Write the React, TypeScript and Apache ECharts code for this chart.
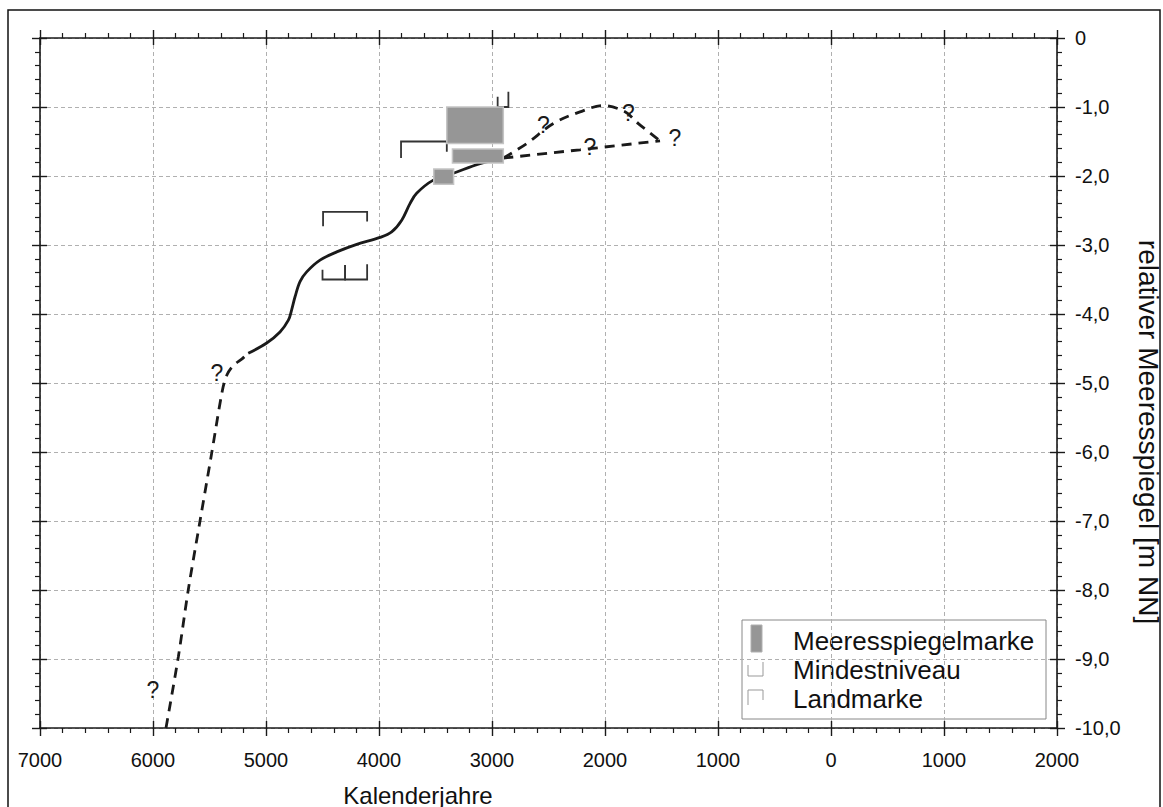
import React, { useEffect, useRef } from "react";
import * as echarts from "echarts";

// ---- data (years: negative = BC, positive = AD; levels in m NN) ----
const xMin = -7000;
const xMax = 2000;
const yMin = -10;
const yMax = 0;

const solidCurve: [number, number][] = [
  [-5157, -4.57], [-4994, -4.42], [-4876, -4.26], [-4802, -4.09], [-4773, -3.94],
  [-4743, -3.75], [-4699, -3.53], [-4640, -3.39], [-4522, -3.22], [-4374, -3.1],
  [-4197, -2.99], [-3991, -2.89], [-3888, -2.81], [-3799, -2.64], [-3726, -2.4],
  [-3667, -2.25], [-3519, -2.06], [-3342, -1.96], [-3106, -1.82], [-2900, -1.74],
];

const dashedEarly: [number, number][] = [
  [-5885, -10], [-5776, -8.97], [-5688, -8.0], [-5584, -7.0], [-5481, -6.02],
  [-5385, -5.1], [-5345, -4.88], [-5292, -4.75], [-5212, -4.65], [-5157, -4.57],
];

const dashedArc: [number, number][] = [
  [-2900, -1.74], [-2693, -1.53], [-2457, -1.24], [-2221, -1.07], [-2015, -0.98],
  [-1823, -1.07], [-1705, -1.24], [-1513, -1.49],
];

const dashedStraight: [number, number][] = [
  [-2900, -1.74], [-2221, -1.62], [-1513, -1.49],
];

const questionMarks: [number, number][] = [
  [-2546, -1.26], [-1794, -1.09], [-1381, -1.45], [-2133, -1.575],
  [-5434, -4.86], [-6000, -9.45],
];

// [x1, x2, yTop, yBottom]
const seaLevelMarks: number[][] = [
  [-3400, -2900, -1.0, -1.53],
  [-3350, -2900, -1.61, -1.81],
  [-3515, -3340, -1.9, -2.12],
];

// [x1, x2, yBottom, yLeftTop, yRightTop]
const minLevelMarks: number[][] = [
  [-2950, -2855, -1.0, -0.85, -0.78],
  [-4500, -4300, -3.5, -3.36, -3.29],
  [-4300, -4105, -3.5, -3.29, -3.28],
];

// [x1, x2, yTop, yLeftBottom, yRightBottom]
const landMarks: number[][] = [
  [-3805, -3400, -1.5, -1.74, -1.65],
  [-4495, -4105, -2.52, -2.73, -2.66],
];

const legendLabels = ["Meeresspiegelmarke", "Mindestniveau", "Landmarke"];
const xAxisName = "Kalenderjahre";
const yAxisName = "relativer Meeresspiegel [m NN]";

const FONT = "'Liberation Sans', Arial, sans-serif";
const INK = "#1a1a1a";
const BOX_FILL = "#969696";
const BOX_EDGE = "#c4c4c4";
const BRACKET = "#333333";

export default function App() {
  const ref = useRef<HTMLDivElement>(null);

  useEffect(() => {
    if (!ref.current) return;
    const chart = echarts.init(ref.current, null, { renderer: "svg" });

    const grid = { left: 40, top: 38, width: 1017, height: 690 };

    const baseX = {
      type: "value" as const,
      min: xMin,
      max: xMax,
      interval: 1000,
    };
    const baseY = {
      type: "value" as const,
      min: yMin,
      max: yMax,
      interval: 1,
    };
    const shownLine = { show: true, onZero: false, lineStyle: { color: INK, width: 1.6 } };
    const hiddenLine = { show: false, onZero: false };
    const outTick = { show: true, inside: false, length: 8, lineStyle: { color: INK, width: 1.4 } };
    const inTick = { show: true, inside: true, length: 7, lineStyle: { color: INK, width: 1.4 } };
    const minor = { show: true, splitNumber: 5, length: 5, lineStyle: { color: INK, width: 1.2 } };
    const grid_line = { show: true, lineStyle: { color: "#b0b0b0", width: 1, type: [4, 3] } };

    const option: any = {
      animation: false,
      backgroundColor: "#ffffff",
      grid,
      xAxis: [
        {
          ...baseX,
          position: "bottom",
          axisLine: shownLine,
          axisTick: outTick,
          minorTick: minor,
          axisLabel: {
            formatter: (v: number) => String(Math.abs(v)),
            fontSize: 20,
            fontFamily: FONT,
            color: "#111",
            margin: 22,
          },
          splitLine: grid_line,
        },
        {
          ...baseX,
          position: "top",
          axisLine: shownLine,
          axisTick: outTick,
          minorTick: minor,
          axisLabel: { show: false },
          splitLine: { show: false },
        },
        {
          ...baseX,
          position: "bottom",
          axisLine: hiddenLine,
          axisTick: inTick,
          axisLabel: { show: false },
          splitLine: { show: false },
        },
        {
          ...baseX,
          position: "top",
          axisLine: hiddenLine,
          axisTick: inTick,
          axisLabel: { show: false },
          splitLine: { show: false },
        },
      ],
      yAxis: [
        {
          ...baseY,
          position: "right",
          axisLine: shownLine,
          axisTick: outTick,
          minorTick: minor,
          axisLabel: {
            formatter: (v: number) => (v === 0 ? "0" : v.toFixed(1).replace(".", ",")),
            fontSize: 20,
            fontFamily: FONT,
            color: "#111",
            margin: 18,
          },
          splitLine: grid_line,
        },
        {
          ...baseY,
          position: "left",
          axisLine: shownLine,
          axisTick: outTick,
          minorTick: minor,
          axisLabel: { show: false },
          splitLine: { show: false },
        },
        {
          ...baseY,
          position: "right",
          axisLine: hiddenLine,
          axisTick: inTick,
          axisLabel: { show: false },
          splitLine: { show: false },
        },
        {
          ...baseY,
          position: "left",
          axisLine: hiddenLine,
          axisTick: inTick,
          axisLabel: { show: false },
          splitLine: { show: false },
        },
      ],
      series: [
        {
          type: "line",
          data: dashedEarly,
          showSymbol: false,
          smooth: 0.3,
          z: 2,
          lineStyle: { color: INK, width: 2.8, type: [10, 7] },
        },
        {
          type: "line",
          data: solidCurve,
          showSymbol: false,
          smooth: 0.35,
          z: 2,
          lineStyle: { color: INK, width: 2.8 },
        },
        {
          type: "line",
          data: dashedArc,
          showSymbol: false,
          smooth: 0.35,
          z: 2,
          lineStyle: { color: INK, width: 2.8, type: [10, 7] },
        },
        {
          type: "line",
          data: dashedStraight,
          showSymbol: false,
          smooth: false,
          z: 2,
          lineStyle: { color: INK, width: 2.8, type: [10, 7] },
        },
        {
          type: "custom",
          data: landMarks,
          encode: { x: [0, 1], y: [2, 3, 4] },
          z: 3,
          renderItem: (params: any, api: any) => {
            const x1 = api.value(0), x2 = api.value(1), yt = api.value(2);
            const pts = [
              api.coord([x1, api.value(3)]),
              api.coord([x1, yt]),
              api.coord([x2, yt]),
              api.coord([x2, api.value(4)]),
            ];
            return {
              type: "polyline",
              shape: { points: pts },
              style: { stroke: BRACKET, lineWidth: 1.8, fill: "none" },
            };
          },
        },
        {
          type: "custom",
          data: minLevelMarks,
          encode: { x: [0, 1], y: [2, 3, 4] },
          z: 3,
          renderItem: (params: any, api: any) => {
            const x1 = api.value(0), x2 = api.value(1), yb = api.value(2);
            const pts = [
              api.coord([x1, api.value(3)]),
              api.coord([x1, yb]),
              api.coord([x2, yb]),
              api.coord([x2, api.value(4)]),
            ];
            return {
              type: "polyline",
              shape: { points: pts },
              style: { stroke: BRACKET, lineWidth: 1.8, fill: "none" },
            };
          },
        },
        {
          type: "custom",
          data: seaLevelMarks,
          encode: { x: [0, 1], y: [2, 3] },
          z: 4,
          renderItem: (params: any, api: any) => {
            const p1 = api.coord([api.value(0), api.value(2)]);
            const p2 = api.coord([api.value(1), api.value(3)]);
            return {
              type: "rect",
              shape: { x: p1[0], y: p1[1], width: p2[0] - p1[0], height: p2[1] - p1[1] },
              style: { fill: BOX_FILL, stroke: BOX_EDGE, lineWidth: 1.5 },
            };
          },
        },
        {
          type: "custom",
          data: questionMarks,
          encode: { x: 0, y: 1 },
          z: 5,
          renderItem: (params: any, api: any) => {
            const p = api.coord([api.value(0), api.value(1)]);
            return {
              type: "text",
              x: p[0],
              y: p[1],
              style: {
                text: "?",
                font: `23px ${FONT}`,
                fill: INK,
                align: "center",
                verticalAlign: "middle",
              },
            };
          },
        },
      ],
      graphic: [
        {
          type: "rect",
          shape: { x: 8, y: 10, width: 1152, height: 820 },
          style: { fill: "none", stroke: "#111", lineWidth: 1.5 },
          silent: true,
          z: 1,
        },
        {
          type: "text",
          x: 418,
          y: 795,
          style: {
            text: xAxisName,
            font: `24px ${FONT}`,
            fill: "#111",
            align: "center",
            verticalAlign: "middle",
          },
        },
        {
          type: "text",
          x: 1148,
          y: 432,
          rotation: -Math.PI / 2,
          style: {
            text: yAxisName,
            font: `28px ${FONT}`,
            fill: "#111",
            align: "center",
            verticalAlign: "middle",
          },
        },
        {
          type: "group",
          z: 10,
          children: [
            {
              type: "rect",
              shape: { x: 742, y: 620, width: 304, height: 99 },
              style: { fill: "#fff", stroke: "#888", lineWidth: 1 },
            },
            {
              type: "rect",
              shape: { x: 751, y: 625, width: 11, height: 27 },
              style: { fill: BOX_FILL, stroke: "#b0b0b0", lineWidth: 1 },
            },
            {
              type: "polyline",
              shape: { points: [[748, 665], [748, 676], [763, 676], [763, 662]] },
              style: { stroke: "#999", lineWidth: 1, fill: "none" },
            },
            {
              type: "polyline",
              shape: { points: [[748, 705], [748, 690], [763, 690], [763, 700]] },
              style: { stroke: "#999", lineWidth: 1, fill: "none" },
            },
            ...legendLabels.map((t, i) => ({
              type: "text",
              x: 793,
              y: 641 + i * 29,
              style: {
                text: t,
                font: `26px ${FONT}`,
                fill: "#111",
                align: "left",
                verticalAlign: "middle",
              },
            })),
          ],
        },
      ],
    };

    chart.setOption(option);
    return () => chart.dispose();
  }, []);

  return (
    <div
      ref={ref}
      style={{ position: "absolute", left: 0, top: 0, width: 1163, height: 807 }}
    />
  );
}
